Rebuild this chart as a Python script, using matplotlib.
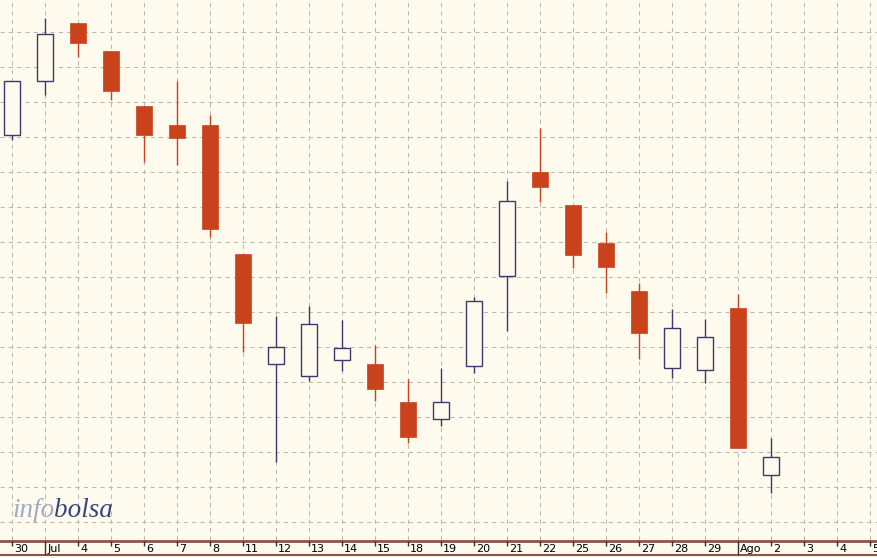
import numpy as np
import matplotlib
matplotlib.use("Agg")
import matplotlib.pyplot as plt

# daily candles, jun 30 -> aug 2
labels = ["30", "Jul", "4", "5", "6", "7", "8", "11", "12", "13", "14", "15", "18",
          "19", "20", "21", "22", "25", "26", "27", "28", "29", "Ago", "2", "3", "4", "5"]
month_marks = ["Jul", "Ago"]

opens  = [7.106, 7.260, 7.426, 7.346, 7.189, 7.134, 7.134, 6.766, 6.451, 6.417, 6.463, 6.451,
          6.343, 6.294, 6.446, 6.703, 7.000, 6.906, 6.797, 6.660, 6.440, 6.434, 6.611, 6.134]
highs  = [7.260, 7.440, 7.426, 7.346, 7.189, 7.260, 7.163, 6.766, 6.589, 6.617, 6.577, 6.506,
          6.409, 6.440, 6.643, 6.974, 7.126, 6.906, 6.829, 6.683, 6.609, 6.580, 6.651, 6.240]
lows   = [7.091, 7.220, 7.329, 7.206, 7.029, 7.020, 6.814, 6.486, 6.171, 6.403, 6.431, 6.346,
          6.226, 6.274, 6.426, 6.546, 6.914, 6.726, 6.654, 6.466, 6.411, 6.397, 6.211, 6.083]
closes = [7.260, 7.394, 7.369, 7.231, 7.106, 7.097, 6.837, 6.569, 6.500, 6.566, 6.497, 6.380,
          6.243, 6.343, 6.631, 6.917, 6.957, 6.763, 6.729, 6.540, 6.554, 6.529, 6.211, 6.186]

bg = "#fffaee"
red = "#c9421c"
navy = "#3a3a6e"
grid_c = "#bcb8b0"
brown = "#8a5648"

fig = plt.figure(figsize=(8.77, 5.58), dpi=100, facecolor=bg)
ax = fig.add_axes([0, 18 / 558, 1, 540 / 558], facecolor=bg)

x = np.arange(len(opens))
o = np.array(opens); c = np.array(closes)
up = c >= o

ax.vlines(x[up], np.array(lows)[up], np.array(highs)[up], color=navy, lw=1, zorder=2)
ax.vlines(x[~up], np.array(lows)[~up], np.array(highs)[~up], color=red, lw=1, zorder=2)
ax.bar(x[up], (c - o)[up], bottom=o[up], width=0.47, facecolor=bg, edgecolor=navy, lw=1, zorder=3)
ax.bar(x[~up], (o - c)[~up], bottom=c[~up], width=0.47, facecolor=red, edgecolor=red, lw=0.5, zorder=3)

# grid
for i in range(len(labels)):
    ax.axvline(i, color=grid_c, lw=0.75, ls=(0, (4, 4)), zorder=1)
for g in np.arange(6.0, 7.45, 0.1):
    ax.axhline(g, color=grid_c, lw=0.75, ls=(0, (4, 4)), zorder=1)

ax.set_xlim(-12 / 33, 865 / 33)
ax.set_ylim(6 - 18 / 350, 6 + 522 / 350)
ax.set_xticks([]); ax.set_yticks([])
for s in ax.spines.values():
    s.set_visible(False)

# date strip
ax2 = fig.add_axes([0, 0, 1, 18 / 558], facecolor=bg)
ax2.set_xlim(ax.get_xlim())
ax2.set_ylim(0, 18)
ax2.axis("off")
ax2.axhline(17, color=brown, lw=2)
ax2.axhline(3, color=brown, lw=1.5)
for i, lab in enumerate(labels):
    if lab in month_marks:
        ax2.vlines(i, 3, 17, color="#333333", lw=1)
    else:
        ax2.vlines(i, 12, 17, color="#333333", lw=1)
    ax2.text(i + 0.07, 9.5, lab, fontsize=8, va="center", ha="left", color="black")

# logo
fig.text(12 / 877, 41 / 558, "info", fontsize=19.5, style="italic", family="Liberation Serif",
         color="#a3abc4", va="baseline")
fig.text(54 / 877, 41 / 558, "bolsa", fontsize=19.5, style="italic", family="Liberation Serif",
         color="#36467a", va="baseline")

plt.savefig("out.png", dpi=100, facecolor=bg)
